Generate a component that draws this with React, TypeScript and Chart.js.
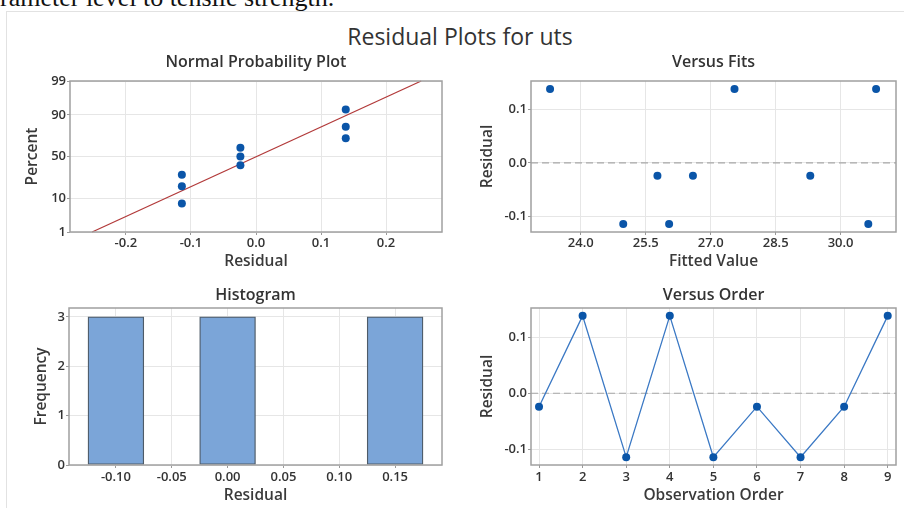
import React, { useEffect, useRef } from 'react';
import { Chart, registerables, LinearScale } from 'chart.js';

Chart.register(...registerables);

// ---------------- data ----------------
// Normal probability plot (sorted residuals and their plotted percent)
const NPP_RESID = [-0.114, -0.114, -0.114, -0.024, -0.024, -0.024, 0.138, 0.138, 0.138];
const NPP_PERCENT = [7.4, 18.0, 28.7, 39.4, 50.0, 60.6, 71.3, 82.0, 92.6];
const NPP_LINE_RESID = [-0.252, 0.254];
const NPP_LINE_PERCENT = [1, 99];
const NPP_X_TICKS = [-0.2, -0.1, 0.0, 0.1, 0.2];
const NPP_Y_TICKS = [1, 10, 50, 90, 99];

// Versus fits
const FIT_VALUES = [23.29, 24.98, 25.77, 26.04, 26.59, 27.55, 29.3, 30.64, 30.82];
const FIT_RESID = [0.138, -0.114, -0.024, -0.114, -0.024, 0.138, -0.024, -0.114, 0.138];
const FITS_X_TICKS = [24.0, 25.5, 27.0, 28.5, 30.0];

// Histogram
const HIST_BINS = [-0.1, -0.05, 0.0, 0.05, 0.1, 0.15];
const HIST_COUNTS = [3, 0, 3, 0, 0, 3];
const HIST_X_TICKS = [-0.1, -0.05, 0.0, 0.05, 0.1, 0.15];
const HIST_Y_TICKS = [0, 1, 2, 3];

// Versus order
const ORDER_OBS = [1, 2, 3, 4, 5, 6, 7, 8, 9];
const ORDER_RESID = [-0.024, 0.138, -0.114, 0.138, -0.114, -0.024, -0.114, -0.024, 0.138];
const ORDER_X_TICKS = [1, 2, 3, 4, 5, 6, 7, 8, 9];

const RESID_Y_TICKS = [-0.1, 0.0, 0.1];

// ---------------- styles ----------------
const FONT = "'Open Sans', 'Noto Sans', sans-serif";
const TEXT = '#333333';
const GRID = '#E6E6E6';
const TICKC = '#9A9A9A';
const MARKER = '#0A55A8';
const TICK_FONT = { family: FONT, size: 13, weight: '600' as const };
const AXIS_FONT = { family: FONT, size: 15.5, weight: '600' as const };

// ---------------- probability scale ----------------
function probit(p: number): number {
  const a = [-3.969683028665376e1, 2.209460984245205e2, -2.759285104469687e2, 1.38357751867269e2, -3.066479806614716e1, 2.506628277459239];
  const b = [-5.447609879822406e1, 1.615858368580409e2, -1.556989798598866e2, 6.680131188771972e1, -1.328068155288572e1];
  const c = [-7.784894002430293e-3, -3.223964580411365e-1, -2.400758277161838, -2.549732539343734, 4.374664141464968, 2.938163982698783];
  const d = [7.784695709041462e-3, 3.224671290700398e-1, 2.445134137142996, 3.754408661907416];
  const pl = 0.02425;
  if (p < pl) {
    const q = Math.sqrt(-2 * Math.log(p));
    return (((((c[0] * q + c[1]) * q + c[2]) * q + c[3]) * q + c[4]) * q + c[5]) / ((((d[0] * q + d[1]) * q + d[2]) * q + d[3]) * q + 1);
  }
  if (p <= 1 - pl) {
    const q = p - 0.5;
    const r = q * q;
    return ((((((a[0] * r + a[1]) * r + a[2]) * r + a[3]) * r + a[4]) * r + a[5]) * q) / (((((b[0] * r + b[1]) * r + b[2]) * r + b[3]) * r + b[4]) * r + 1);
  }
  const q = Math.sqrt(-2 * Math.log(1 - p));
  return -(((((c[0] * q + c[1]) * q + c[2]) * q + c[3]) * q + c[4]) * q + c[5]) / ((((d[0] * q + d[1]) * q + d[2]) * q + d[3]) * q + 1);
}
function normCdf(z: number): number {
  const t = 1 / (1 + 0.2316419 * Math.abs(z));
  const dd = 0.3989423 * Math.exp((-z * z) / 2);
  const p = dd * t * (0.3193815 + t * (-0.3565638 + t * (1.781478 + t * (-1.821256 + t * 1.330274))));
  return z > 0 ? 1 - p : p;
}

class ProbitScale extends LinearScale {
  static id = 'probit';
  static defaults = LinearScale.defaults;
  _zs = 0;
  _ze = 1;
  determineDataLimits() {
    // @ts-ignore
    this.min = this.options.min;
    // @ts-ignore
    this.max = this.options.max;
  }
  buildTicks() {
    return [];
  }
  configure() {
    super.configure();
    this._zs = probit(this.min / 100);
    this._ze = probit(this.max / 100);
  }
  getPixelForValue(v: number) {
    if (v == null || isNaN(v)) return NaN;
    return this.getPixelForDecimal((probit(v / 100) - this._zs) / (this._ze - this._zs));
  }
  getValueForPixel(px: number) {
    const z = this._zs + this.getDecimalForPixel(px) * (this._ze - this._zs);
    return 100 * normCdf(z);
  }
}
Chart.register(ProbitScale as any);

// ---------------- plugins ----------------
const framePlugin = {
  id: 'frameBox',
  afterDatasetsDraw(chart: any) {
    const { ctx, chartArea: a } = chart;
    ctx.save();
    ctx.strokeStyle = '#A0A0A0';
    ctx.lineWidth = 1.5;
    ctx.strokeRect(a.left, a.top, a.right - a.left, a.bottom - a.top);
    ctx.restore();
  },
};
const zeroLinePlugin = {
  id: 'zeroLine',
  beforeDatasetsDraw(chart: any) {
    const { ctx, chartArea: a } = chart;
    const y = chart.scales.y.getPixelForValue(0);
    ctx.save();
    ctx.strokeStyle = '#A8A8A8';
    ctx.lineWidth = 1.2;
    ctx.setLineDash([7, 4]);
    ctx.beginPath();
    ctx.moveTo(a.left, y);
    ctx.lineTo(a.right, y);
    ctx.stroke();
    ctx.restore();
  },
};
// Panel title centred over the plotting area (as in Minitab)
function panelTitle(text: string, y: number) {
  return {
    id: 'panelTitle',
    afterDraw(chart: any) {
      const { ctx, chartArea: a } = chart;
      ctx.save();
      ctx.font = `600 16px ${FONT}`;
      ctx.fillStyle = TEXT;
      ctx.textAlign = 'center';
      ctx.textBaseline = 'middle';
      ctx.fillText(text, (a.left + a.right) / 2, y);
      ctx.restore();
    },
  };
}

// ---------------- scale helpers ----------------
function fmt(dec: number) {
  return (v: any) => Number(v).toFixed(dec);
}
function xScale(o: { min: number; max: number; ticks: number[]; dec: number; title: string; tickPad: number; height: number; titlePadBottom: number }) {
  return {
    type: 'linear',
    position: 'bottom',
    min: o.min,
    max: o.max,
    offset: false,
    afterBuildTicks: (s: any) => {
      s.ticks = o.ticks.map((v) => ({ value: v }));
    },
    afterFit: (s: any) => {
      s.height = o.height;
    },
    grid: { color: GRID, tickColor: TICKC, tickLength: 3, drawTicks: true, offset: false, lineWidth: 1 },
    border: { display: false },
    ticks: { font: TICK_FONT, color: TEXT, padding: o.tickPad, autoSkip: false, maxRotation: 0, callback: fmt(o.dec) },
    title: { display: true, text: o.title, font: AXIS_FONT, color: '#3a3a3a', padding: { top: 0, bottom: o.titlePadBottom } },
  };
}
function yScale(o: { type?: string; min: number; max: number; ticks: number[]; dec: number; title: string; width: number; titlePadTop: number }) {
  return {
    type: o.type || 'linear',
    position: 'left',
    min: o.min,
    max: o.max,
    afterBuildTicks: (s: any) => {
      s.ticks = o.ticks.map((v) => ({ value: v }));
    },
    afterFit: (s: any) => {
      s.width = o.width;
    },
    grid: { color: GRID, tickColor: TICKC, tickLength: 3, drawTicks: true, lineWidth: 1 },
    border: { display: false },
    ticks: { font: TICK_FONT, color: TEXT, padding: 1, autoSkip: false, callback: fmt(o.dec) },
    title: { display: true, text: o.title, font: AXIS_FONT, color: '#3a3a3a', padding: { top: o.titlePadTop, bottom: 0 } },
  };
}
function baseOptions(topPad: number, rightPad: number) {
  return {
    animation: false,
    responsive: false,
    layout: { padding: { left: 0, right: rightPad, top: topPad, bottom: 0 } },
    plugins: {
      legend: { display: false },
      tooltip: { enabled: false },
      title: { display: false },
    },
  };
}

// ---------------- configs ----------------
function nppConfig(): any {
  return {
    type: 'scatter',
    data: {
      datasets: [
        {
          data: NPP_RESID.map((x, i) => ({ x, y: NPP_PERCENT[i] })),
          pointRadius: 4,
          pointHoverRadius: 4,
          pointBackgroundColor: MARKER,
          pointBorderWidth: 0,
          showLine: false,
        },
        {
          data: NPP_LINE_RESID.map((x, i) => ({ x, y: NPP_LINE_PERCENT[i] })),
          showLine: true,
          borderColor: '#B23A3A',
          borderWidth: 1.3,
          pointRadius: 0,
          clip: false,
        },
      ],
    },
    options: {
      ...baseOptions(37, 8),
      scales: {
        x: xScale({ min: -0.286, max: 0.286, ticks: NPP_X_TICKS, dec: 1, title: 'Residual', tickPad: 0.5, height: 40, titlePadBottom: 0.7 }),
        y: yScale({ type: 'probit', min: 1, max: 99, ticks: NPP_Y_TICKS, dec: 0, title: 'Percent', width: 60, titlePadTop: 13.7 }),
      },
    },
    plugins: [framePlugin, panelTitle('Normal Probability Plot', 18)],
  };
}
function fitsConfig(): any {
  return {
    type: 'scatter',
    data: {
      datasets: [
        {
          data: FIT_VALUES.map((x, i) => ({ x, y: FIT_RESID[i] })),
          pointRadius: 4,
          pointHoverRadius: 4,
          pointBackgroundColor: MARKER,
          pointBorderWidth: 0,
          showLine: false,
        },
      ],
    },
    options: {
      ...baseOptions(37, 8),
      scales: {
        x: xScale({ min: 22.85, max: 31.28, ticks: FITS_X_TICKS, dec: 1, title: 'Fitted Value', tickPad: 0.5, height: 40, titlePadBottom: 0.7 }),
        y: yScale({ min: -0.129, max: 0.153, ticks: RESID_Y_TICKS, dec: 1, title: 'Residual', width: 67, titlePadTop: 14.7 }),
      },
    },
    plugins: [zeroLinePlugin, framePlugin, panelTitle('Versus Fits', 18)],
  };
}
function histConfig(): any {
  return {
    type: 'bar',
    data: {
      datasets: [
        {
          data: HIST_BINS.map((x, i) => ({ x, y: HIST_COUNTS[i] })),
          backgroundColor: '#7BA5D8',
          borderColor: '#4E5B68',
          borderWidth: 1.3,
          borderSkipped: false,
          categoryPercentage: 1,
          barPercentage: 1,
        },
      ],
    },
    options: {
      ...baseOptions(32, 8),
      scales: {
        x: xScale({ min: -0.142, max: 0.192, ticks: HIST_X_TICKS, dec: 2, title: 'Residual', tickPad: 1.2, height: 40, titlePadBottom: 0 }),
        y: { ...yScale({ min: 0, max: 3.18, ticks: HIST_Y_TICKS, dec: 0, title: 'Frequency', width: 59, titlePadTop: 22.7 }), beginAtZero: true },
      },
    },
    plugins: [framePlugin, panelTitle('Histogram', 19)],
  };
}
function orderConfig(): any {
  return {
    type: 'scatter',
    data: {
      datasets: [
        {
          data: ORDER_OBS.map((x, i) => ({ x, y: ORDER_RESID[i] })),
          showLine: true,
          borderColor: '#3A78C4',
          borderWidth: 1.3,
          pointRadius: 4,
          pointHoverRadius: 4,
          pointBackgroundColor: MARKER,
          pointBorderWidth: 0,
        },
      ],
    },
    options: {
      ...baseOptions(32, 8),
      scales: {
        x: xScale({ min: 0.816, max: 9.19, ticks: ORDER_X_TICKS, dec: 0, title: 'Observation Order', tickPad: 1.2, height: 40, titlePadBottom: 0 }),
        y: yScale({ min: -0.128, max: 0.152, ticks: RESID_Y_TICKS, dec: 1, title: 'Residual', width: 67, titlePadTop: 14.7 }),
      },
    },
    plugins: [zeroLinePlugin, framePlugin, panelTitle('Versus Order', 19)],
  };
}

function Panel(props: { left: number; top: number; width: number; height: number; make: () => any }) {
  const ref = useRef<HTMLCanvasElement | null>(null);
  useEffect(() => {
    if (!ref.current) return;
    const chart = new Chart(ref.current, props.make());
    return () => chart.destroy();
  }, []);
  return (
    <canvas
      ref={ref}
      width={props.width}
      height={props.height}
      style={{ position: 'absolute', left: props.left, top: props.top, width: props.width, height: props.height }}
    />
  );
}

export default function App() {
  return (
    <div style={{ position: 'absolute', left: 0, top: 0, width: 904, height: 508, overflow: 'hidden', background: '#fff' }}>
      <div
        style={{
          position: 'absolute',
          left: 0,
          top: -15,
          fontFamily: "'Liberation Serif', 'Times New Roman', serif",
          fontSize: 26,
          lineHeight: '26px',
          color: '#111',
          whiteSpace: 'nowrap',
        }}
      >
        rameter level to tensile strength.
      </div>
      <div
        style={{
          position: 'absolute',
          left: 6,
          top: 11,
          width: 920,
          height: 520,
          borderLeft: '1px solid #E2E2E2',
          borderTop: '1px solid #E2E2E2',
          background: '#fff',
        }}
      />
      <div
        style={{
          position: 'absolute',
          left: 210,
          top: 20,
          width: 500,
          textAlign: 'center',
          fontFamily: FONT,
          fontSize: 23,
          lineHeight: '32px',
          color: '#333',
          whiteSpace: 'nowrap',
        }}
      >
        Residual Plots for uts
      </div>
      <Panel left={10} top={44} width={440} height={228} make={nppConfig} />
      <Panel left={464} top={44} width={440} height={228} make={fitsConfig} />
      <Panel left={10} top={276} width={440} height={229} make={histConfig} />
      <Panel left={464} top={276} width={440} height={229} make={orderConfig} />
    </div>
  );
}
